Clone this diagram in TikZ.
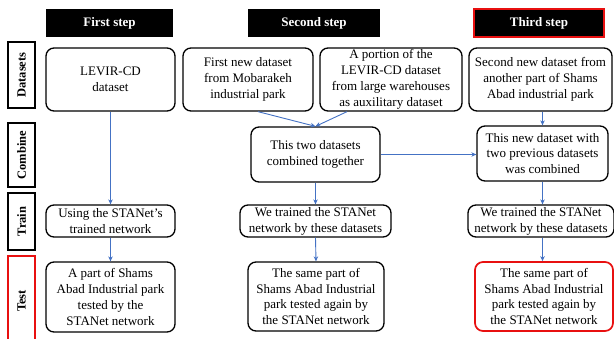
\documentclass[tikz,border=0pt]{standalone}
\usepackage{fontspec}
\setmainfont{Liberation Serif}
\usetikzlibrary{arrows.meta}
\definecolor{arrblue}{RGB}{68,114,196}
\definecolor{boxred}{RGB}{232,16,16}
\begin{document}
\begin{tikzpicture}[x=1pt,y=-1pt,
  box/.style={draw=black,line width=1.3pt,rounded corners=8pt,align=center,inner sep=1pt,font=\fontsize{13}{15.8}\selectfont},
  boxR/.style={box,draw=boxred,line width=1.7pt},
  head/.style={fill=black,text=white,minimum height=28pt,font=\fontsize{13}{15}\selectfont\bfseries},
  headR/.style={head,draw=boxred,line width=1.7pt},
  side/.style={draw=black,line width=1.3pt,rotate=90,minimum height=27pt,inner sep=1pt,font=\fontsize{12.5}{15}\selectfont\bfseries},
  sideR/.style={side,draw=boxred,line width=1.7pt},
  arr/.style={draw=arrblue,line width=0.9pt,-{Stealth[length=5pt,width=4.5pt]}}]
\useasboundingbox (0,0) rectangle (614,338);

% step headers
\node[head,minimum width=127pt] (h1) at (109.5,23) {First step};
\node[head,minimum width=132pt] (h2) at (314,23) {Second step};
\node[headR,minimum width=130pt] (h3) at (539,23) {Third step};

% row labels
\node[side,minimum width=66pt] (lDat) at (21.5,75) {Datasets};
\node[side,minimum width=64pt] (lCom) at (21.5,155) {Combine};
\node[side,minimum width=57pt] (lTra) at (21.5,221.5) {Train};
\node[sideR,minimum width=90pt] (lTes) at (21.5,301) {Test};

% datasets
\node[box,minimum width=129pt,minimum height=63pt] (d1) at (110.5,79.5) {LEVIR-CD\\dataset};
\node[box,minimum width=130pt,minimum height=63pt] (d2) at (248,79.5) {First new dataset\\from Mobarakeh\\industrial park};
\node[box,minimum width=142pt,minimum height=63pt] (d3) at (391,79.5) {A portion of the\\LEVIR-CD dataset\\from large warehouses\\as auxilitary dataset};
\node[box,minimum width=143pt,minimum height=63pt] (d4) at (540.5,79.5) {Second new dataset from\\another part of Shams\\Abad industrial park};

% combine
\node[box,minimum width=129pt,minimum height=55pt] (c2) at (315.5,154.5) {This two datasets\\combined together};
\node[box,minimum width=131pt,minimum height=55pt] (c3) at (542.5,153.5) {This new dataset with\\two previous datasets\\was combined};

% train
\node[box,minimum width=129pt,minimum height=32pt] (t1) at (110.5,221) {Using the STANet's\\trained network};
\node[box,minimum width=151pt,minimum height=32pt] (t2) at (315.5,221) {We trained the STANet\\network by these datasets};
\node[box,minimum width=146pt,minimum height=32pt] (t3) at (541,221) {We trained the STANet\\network by these datasets};

% test
\node[box,minimum width=129pt,minimum height=70pt] (s1) at (110.5,297) {A part of Shams\\Abad Industrial park\\tested by the\\STANet network};
\node[box,minimum width=136pt,minimum height=69pt] (s2) at (316,296.5) {The same part of\\Shams Abad Industrial\\park tested again by\\the STANet network};
\node[boxR,minimum width=138pt,minimum height=69pt] (s3) at (544,296.5) {The same part of\\Shams Abad Industrial\\park tested again by\\the STANet network};

% arrows
\draw[arr] (d1.south) -- (t1.north);
\draw[arr] (t1.south) -- (s1.north);
\draw[arr] ([xshift=10pt]d2.south) -- (c2.north);
\draw[arr] ([xshift=-44pt]d3.south) -- (c2.north);
\draw[arr] (c2.south) -- (t2.north);
\draw[arr] (t2.south) -- (s2.north);
\draw[arr] (c2.east) -- (c2.east -| c3.west);
\draw[arr] (c3.north |- d4.south) -- (c3.north);
\draw[arr] (c3.south) -- (c3.south |- t3.north);
\draw[arr] (c3.south |- t3.south) -- (c3.south |- s3.north);
\end{tikzpicture}
\end{document}
